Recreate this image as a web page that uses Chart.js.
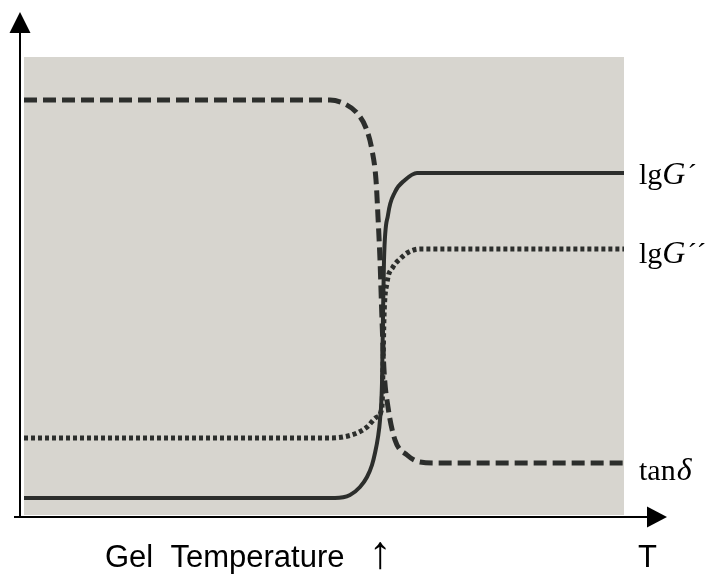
<!DOCTYPE html>
<html>
<head>
<meta charset="utf-8">
<script src="https://cdn.jsdelivr.net/npm/chart.js@4/dist/chart.umd.min.js"></script>
<style>
  html, body { margin: 0; padding: 0; background: #fff; }
  #wrap { width: 723px; height: 574px; }
</style>
</head>
<body>
<div id="wrap"><canvas id="gel-chart" width="723" height="574"></canvas></div>
<script>
    // Schematic units: x = temperature (arbitrary), y = response (arbitrary).
    var T_MAX = 647;
    var Y_MAX = 505;

    // lgG' (solid)
    var gPrimeT   = [4, 315, 330, 340, 347, 352, 355, 358, 360, 362, 363, 364, 368, 375, 385, 397, 604];
    var gPrimeVal = [19, 19, 22, 30, 40, 52, 64, 80, 97, 134, 200, 257, 302, 325, 337, 344, 344];

    // lgG'' (dotted)
    var gDoubleT   = [4, 310, 323, 337, 347, 357, 362, 363, 364, 367, 373, 380, 387, 400, 604];
    var gDoubleVal = [79, 79, 80, 84, 90, 100, 110, 150, 200, 234, 250, 258, 264, 268, 268];

    // tan delta (dashed)
    var tanT   = [4, 310, 325, 337, 346, 352, 356, 358, 360, 362, 364, 368, 375, 387, 400, 417, 604];
    var tanVal = [417, 417, 413, 404, 389, 367, 337, 300, 257, 197, 147, 110, 77, 62, 55, 54, 54];

    var curveLabels = ["lgG\u00b4", "lgG\u00b4\u00b4", "tan\u03b4"];
    var xAxisLabel = "Gel  Temperature";
    var gelMark = "\u2191";
    var xAxisEnd = "T";

    var INK = '#2c2e2c';

    function toPoints(xs, ys) {
        let pts = [];
        for (let i = 0; i < xs.length; i++) pts.push({x: xs[i], y: ys[i]});
        return pts;
    }

    // gray paper panel behind the curves
    const panelPlugin = {
        id: 'panel',
        beforeDatasetsDraw(chart) {
            const {ctx, scales: {x, y}} = chart;
            const left = x.getPixelForValue(4), right = x.getPixelForValue(604);
            const top = y.getPixelForValue(460), bottom = y.getPixelForValue(2);
            ctx.save();
            ctx.fillStyle = '#d7d5cf';
            ctx.fillRect(left, top, right - left, bottom - top);
            ctx.restore();
        }
    };

    // axes with arrow heads, curve names and the bottom captions
    const annotatePlugin = {
        id: 'annotate',
        afterDatasetsDraw(chart) {
            const {ctx, scales: {x, y}} = chart;
            const x0 = x.getPixelForValue(0), y0 = y.getPixelForValue(0);
            const xEnd = x.getPixelForValue(T_MAX), yEnd = y.getPixelForValue(Y_MAX);
            ctx.save();
            ctx.strokeStyle = '#000';
            ctx.fillStyle = '#000';
            ctx.lineWidth = 2;
            ctx.beginPath();
            ctx.moveTo(x0, y0 + 1);
            ctx.lineTo(x0, yEnd + 18);
            ctx.moveTo(x0 - 6, y0);
            ctx.lineTo(xEnd - 18, y0);
            ctx.stroke();
            ctx.beginPath();
            ctx.moveTo(x0, yEnd);
            ctx.lineTo(x0 - 10.5, yEnd + 21);
            ctx.lineTo(x0 + 10.5, yEnd + 21);
            ctx.closePath();
            ctx.fill();
            ctx.beginPath();
            ctx.moveTo(xEnd, y0);
            ctx.lineTo(xEnd - 20, y0 - 10.5);
            ctx.lineTo(xEnd - 20, y0 + 10.5);
            ctx.closePath();
            ctx.fill();

            // curve names at the right end of each curve
            const lx = x.getPixelForValue(619);
            const ends = [gPrimeVal[gPrimeVal.length - 1], gDoubleVal[gDoubleVal.length - 1], tanVal[tanVal.length - 1]];
            const drop = [11, 14, 17];
            const serif = '"Liberation Serif", "Times New Roman", serif';
            ctx.textBaseline = 'alphabetic';
            for (let i = 0; i < curveLabels.length; i++) {
                const py = y.getPixelForValue(ends[i]) + drop[i];
                const lab = curveLabels[i];
                let cx = lx;
                if (i < 2) {
                    ctx.font = '30px ' + serif;
                    ctx.fillText('lg', cx, py);
                    cx += ctx.measureText('lg').width;
                    ctx.font = 'italic 32px ' + serif;
                    ctx.fillText('G', cx, py);
                    cx += ctx.measureText('G').width + 2;
                    ctx.font = '28px ' + serif;
                    ctx.fillText(lab.slice(3), cx, py - 1);
                } else {
                    ctx.font = '30px ' + serif;
                    ctx.fillText('tan', cx, py);
                    cx += ctx.measureText('tan').width + 1;
                    ctx.font = 'italic 32px ' + serif;
                    ctx.fillText('\u03b4', cx, py);
                }
            }

            ctx.font = '31px "Liberation Sans", Arial, sans-serif';
            ctx.fillText(xAxisLabel, x.getPixelForValue(85), y0 + 50);
            ctx.fillText(xAxisEnd, x.getPixelForValue(618), y0 + 50);
            ctx.font = '46px "Liberation Sans", Arial, sans-serif';
            ctx.textAlign = 'center';
            ctx.fillText(gelMark, x.getPixelForValue(360), y0 + 51);
            ctx.restore();
        }
    };

    const chart_ctx = document.getElementById('gel-chart').getContext('2d');
    new Chart(chart_ctx, {
        type: 'line',
        data: {
            datasets: [
                {
                    label: curveLabels[0],
                    data: toPoints(gPrimeT, gPrimeVal),
                    borderColor: INK,
                    borderWidth: 4,
                    cubicInterpolationMode: 'monotone',
                    pointRadius: 0
                },
                {
                    label: curveLabels[1],
                    data: toPoints(gDoubleT, gDoubleVal),
                    borderColor: INK,
                    borderWidth: 5,
                    borderDash: [4, 3],
                    cubicInterpolationMode: 'monotone',
                    pointRadius: 0
                },
                {
                    label: curveLabels[2],
                    data: toPoints(tanT, tanVal),
                    borderColor: INK,
                    borderWidth: 5,
                    borderDash: [13, 6],
                    cubicInterpolationMode: 'monotone',
                    pointRadius: 0
                }
            ]
        },
        options: {
            responsive: false,
            animation: false,
            layout: { padding: { left: 20, top: 12, right: 56, bottom: 57 } },
            plugins: { legend: { display: false }, tooltip: { enabled: false } },
            scales: {
                x: { type: 'linear', min: 0, max: T_MAX, display: false },
                y: { min: 0, max: Y_MAX, display: false }
            }
        },
        plugins: [panelPlugin, annotatePlugin]
    });
</script>
</body>
</html>
